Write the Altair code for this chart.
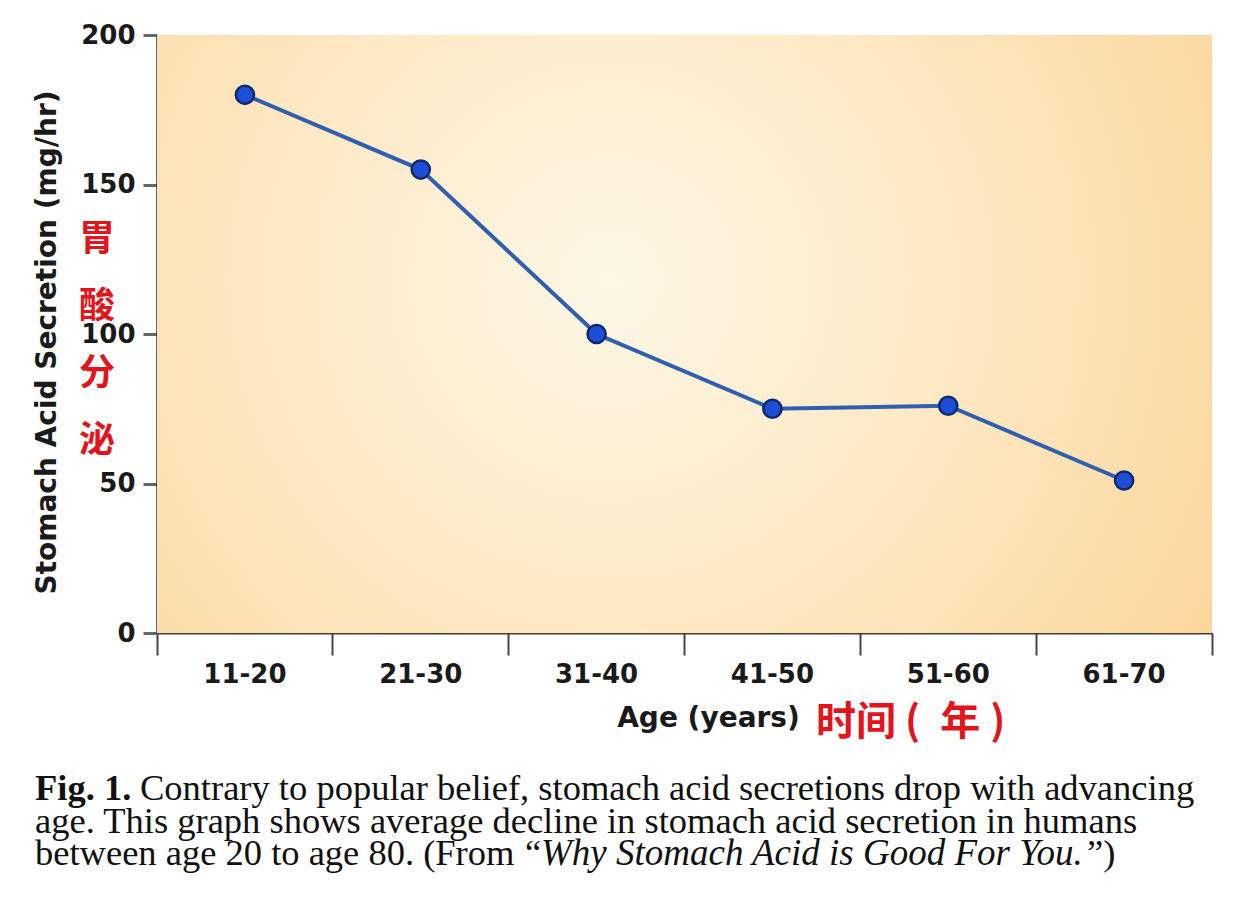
import altair as alt
import pandas as pd

# ---- data ----
ages = ["11-20", "21-30", "31-40", "41-50", "51-60", "61-70"]
secretion = [180, 155, 100, 75, 76, 51]
y_ticks = [0, 50, 100, 150, 200]

y_title = "Stomach Acid Secretion (mg/hr)"
x_title = "Age (years)"
cn_y = "胃\n酸\n分\n泌"
cn_x = "时间 (\u2002年\u2005)"
cap_bold = "Fig. 1."
cap_l1 = "Contrary to popular belief, stomach acid secretions drop with advancing"
cap_l2 = "age. This graph shows average decline in stomach acid secretion in humans"
cap_l3a = "between age 20 to age 80. (From"
cap_l3q = "\u201c"
cap_l3b = "Why Stomach Acid is Good For You."
cap_l3c = "\u201d)"

df = pd.DataFrame({"age": ages, "value": secretion})
one = pd.DataFrame({"k": [0]})

W, H = 1055, 598

xscale = alt.Scale(type="band", domain=ages, paddingInner=0, paddingOuter=0)
yscale = alt.Scale(domain=[0, 200])

bg = alt.Chart(one).mark_rect(
    fill=alt.Gradient(
        gradient="radial",
        stops=[
            alt.GradientStop(color="#fdf7e6", offset=0),
            alt.GradientStop(color="#fde8c2", offset=0.45),
            alt.GradientStop(color="#fad193", offset=1),
        ],
        x1=0.43, y1=0.45, r1=0.0,
        x2=0.43, y2=0.45, r2=0.75,
    )
).encode(x=alt.value(0), x2=alt.value(W), y=alt.value(0), y2=alt.value(H))

base = alt.Chart(df).encode(
    x=alt.X("age:N", scale=xscale, sort=ages,
            axis=alt.Axis(title=x_title, labelAngle=0, bandPosition=1, tickExtra=True,
                          titleX=551, titleY=85, titleBaseline="middle", titleAlign="center")),
    y=alt.Y("value:Q", scale=yscale,
            axis=alt.Axis(title=y_title, values=y_ticks, grid=False,
                          titleX=-110, titleY=307, titleAngle=-90, titleFontSize=28,
                          titleBaseline="middle", titleAlign="center")),
)

line = base.mark_line(color="#2f5fae", strokeWidth=4)
pts = base.mark_point(filled=True, size=330, fill="#1f4ed6", stroke="#0d2a6e",
                      strokeWidth=2.5, opacity=1)

red_y = alt.Chart(one).mark_text(
    text=cn_y, font="Noto Sans CJK SC", fontWeight="bold", fontSize=36,
    color="#e3141b", lineBreak="\n", lineHeight=67, baseline="top", align="center"
).encode(x=alt.value(-60), y=alt.value(188))

red_x = alt.Chart(one).mark_text(
    text=cn_x, font="Noto Sans CJK SC", fontWeight="bold", fontSize=40,
    color="#e3141b", baseline="middle", align="left"
).encode(x=alt.value(659), y=alt.value(688))

cap_font = "Liberation Serif"
cap_size = 36.5


def cap_text(txt, x, y, size=cap_size, **kw):
    return alt.Chart(one).mark_text(
        text=txt, font=cap_font, fontSize=size, color="#111",
        align="left", baseline="alphabetic", **kw
    ).encode(x=alt.value(x), y=alt.value(y))


cap = [
    cap_text(cap_bold, -122, 765, fontWeight="bold"),
    cap_text(cap_l1, -17, 765),
    cap_text(cap_l2, -122, 798),
    cap_text(cap_l3a, -122, 830),
    cap_text(cap_l3q, 368, 830),
    cap_text(cap_l3b, 384, 830, size=37, fontStyle="italic"),
    cap_text(cap_l3c, 930, 830),
]

chart = alt.layer(bg, line, pts, red_y, red_x, *cap).properties(
    width=W, height=H,
    autosize=alt.AutoSizeParams(type="none"),
    padding={"left": 149, "top": 27, "right": 20, "bottom": 268},
    background="#ffffff",
).configure_view(strokeWidth=0).configure_axis(
    labelFont="DejaVu Sans", labelFontWeight="bold", labelFontSize=26, labelColor="#1a1a1a",
    titleFont="DejaVu Sans", titleFontWeight="bold", titleFontSize=28, titleColor="#1a1a1a",
).configure_axisY(
    domainColor="#333333", domainWidth=2.5, tickColor="#666666", tickWidth=3, tickSize=14,
    labelPadding=8,
).configure_axisX(
    domainColor="#4a3a2a", domainWidth=2, tickColor="#444444", tickWidth=2, tickSize=22,
    labelPadding=6,
)

chart.save("out.html", embed_options={"renderer": "svg", "actions": False})
